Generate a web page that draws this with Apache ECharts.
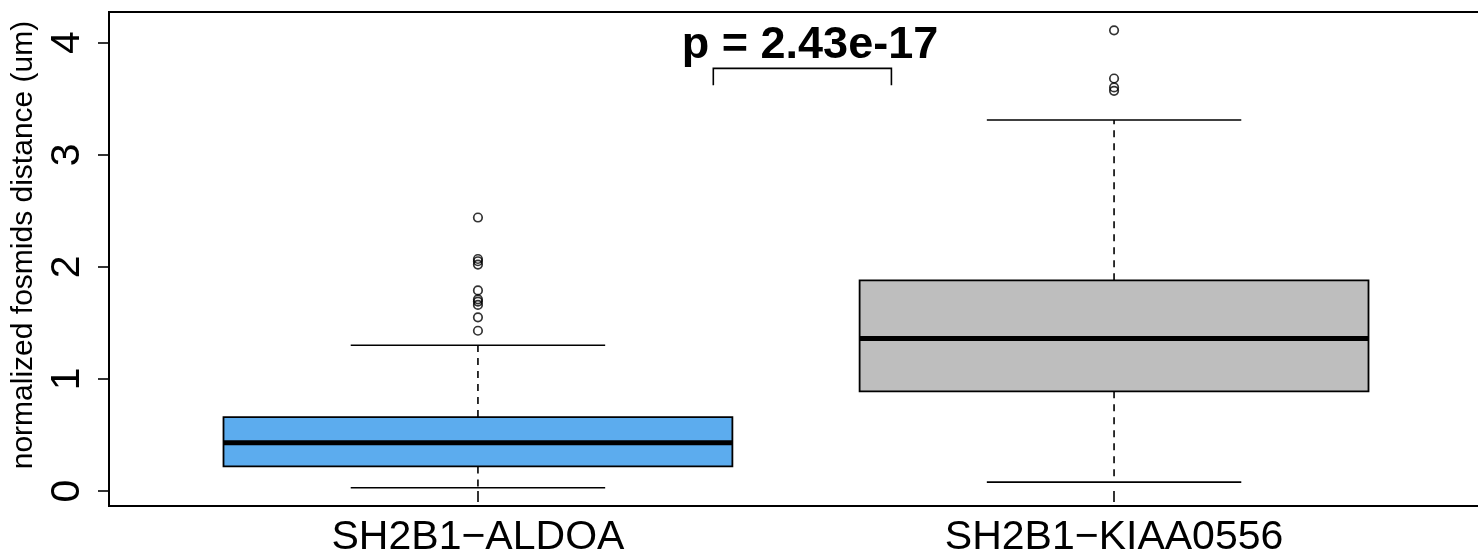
<!DOCTYPE html>
<html>
<head>
<meta charset="utf-8">
<title>normalized fosmids distance</title>
<script src="https://cdn.jsdelivr.net/npm/echarts@6/dist/echarts.min.js"></script>
<style>
  html, body { margin: 0; padding: 0; background: #fff; }
  #chart { width: 1478px; height: 555px; }
</style>
</head>
<body>
<div id="chart"></div>
<script>
// Pair labels (x categories, placed at 1 and 2 on the value axis)
const groups = ['SH2B1\u2212ALDOA', 'SH2B1\u2212KIAA0556'];
const groupPos = [1, 2];
const boxColors = ['#5CACEE', '#BEBEBE'];

// Five-number summaries per pair
const lowerWhisker = [0.03, 0.08];
const q1 = [0.22, 0.89];
const medians = [0.43, 1.36];
const q3 = [0.66, 1.88];
const upperWhisker = [1.30, 3.31];

// Points beyond the whiskers
const outliersALDOA = [2.44, 2.07, 2.05, 2.02, 1.79, 1.71, 1.69, 1.66, 1.55, 1.43];
const outliersKIAA0556 = [4.11, 3.68, 3.60, 3.57];

// Y ticks
const yTicks = [0, 1, 2, 3, 4];

// Significance annotation
const pValueText = 'p = 2.43e-17';
const bracketX = [1.37, 1.65];
const bracketY = [3.77, 3.62];   // bar height, leg bottom
const pTextPos = [1.522, 3.97];

// Axis extents: data range padded by 4% each side
const allVals = lowerWhisker.concat(upperWhisker, outliersALDOA, outliersKIAA0556);
const dMin = Math.min.apply(null, allVals);
const dMax = Math.max.apply(null, allVals);
const pad = (dMax - dMin) * 0.04;
const yMin = dMin - pad;
const yMax = dMax + pad;
const xMin = 0.5 - 0.08;
const xMax = 2.5 + 0.08;

const boxRows = groupPos.map((x, i) => [x, lowerWhisker[i], q1[i], medians[i], q3[i], upperWhisker[i], i]);
const outlierRows = []
  .concat(outliersALDOA.map(v => [1, v]))
  .concat(outliersKIAA0556.map(v => [2, v]));

function renderBox(params, api) {
  const x = api.value(0);
  const lo = api.coord([x, api.value(1)]);
  const b1 = api.coord([x, api.value(2)]);
  const md = api.coord([x, api.value(3)]);
  const b3 = api.coord([x, api.value(4)]);
  const hi = api.coord([x, api.value(5)]);
  const idx = api.value(6);
  const half = api.size([0.4, 0])[0];
  const capHalf = api.size([0.2, 0])[0];
  const cx = lo[0];
  const dash = { stroke: '#000', lineWidth: 1.6, lineDash: [7, 6] };
  const solid = { stroke: '#000', lineWidth: 1.6 };
  return {
    type: 'group',
    children: [
      { type: 'line', shape: { x1: cx, y1: b3[1], x2: cx, y2: hi[1] }, style: dash },
      { type: 'line', shape: { x1: cx, y1: b1[1], x2: cx, y2: lo[1] }, style: dash },
      { type: 'line', shape: { x1: cx - capHalf, y1: hi[1], x2: cx + capHalf, y2: hi[1] }, style: solid },
      { type: 'line', shape: { x1: cx - capHalf, y1: lo[1], x2: cx + capHalf, y2: lo[1] }, style: solid },
      { type: 'rect', shape: { x: cx - half, y: b3[1], width: half * 2, height: b1[1] - b3[1] },
        style: { fill: boxColors[idx], stroke: '#000', lineWidth: 1.8 } },
      { type: 'line', shape: { x1: cx - half, y1: md[1], x2: cx + half, y2: md[1] },
        style: { stroke: '#000', lineWidth: 5 } }
    ]
  };
}

function renderBracket(params, api) {
  const a = api.coord([bracketX[0], bracketY[0]]);
  const b = api.coord([bracketX[1], bracketY[0]]);
  const aLeg = api.coord([bracketX[0], bracketY[1]]);
  const bLeg = api.coord([bracketX[1], bracketY[1]]);
  const t = api.coord(pTextPos);
  return {
    type: 'group',
    children: [
      { type: 'polyline', shape: { points: [[aLeg[0], aLeg[1]], [a[0], a[1]], [b[0], b[1]], [bLeg[0], bLeg[1]]] },
        style: { stroke: '#000', lineWidth: 1.6, fill: null } },
      { type: 'text', x: t[0], y: t[1],
        style: { text: pValueText, fill: '#000', font: 'bold 45px "Liberation Sans", Arial, sans-serif',
                 align: 'center', verticalAlign: 'middle' } }
    ]
  };
}

const chart = echarts.init(document.getElementById('chart'), null, { renderer: 'canvas' });
chart.setOption({
  animation: false,
  backgroundColor: '#fff',
  grid: {
    left: 109, top: 12, width: 1374, height: 494,
    containLabel: false, outerBoundsMode: 'none',
    show: true, borderColor: '#000', borderWidth: 2, backgroundColor: 'transparent'
  },
  xAxis: {
    type: 'value', min: xMin, max: xMax,
    axisLine: { show: false },
    splitLine: { show: false },
    axisTick: { show: true, customValues: groupPos, length: 11, lineStyle: { color: '#000', width: 1.6 } },
    axisLabel: {
      customValues: groupPos,
      formatter: v => groups[Math.round(v) - 1],
      color: '#000', fontSize: 41, fontFamily: '"Liberation Sans", Arial, sans-serif', margin: 11
    }
  },
  yAxis: {
    type: 'value', min: yMin, max: yMax,
    name: 'normalized fosmids distance (um)',
    nameLocation: 'middle', nameRotate: 90, nameGap: 70,
    nameTextStyle: { color: '#000', fontSize: 30, fontFamily: '"Liberation Sans", Arial, sans-serif',
                     padding: [0, 0, 0, 28] },
    axisLine: { show: false },
    splitLine: { show: false },
    axisTick: { show: true, customValues: yTicks, length: 11, lineStyle: { color: '#000', width: 1.6 } },
    axisLabel: {
      customValues: yTicks, rotate: 90,
      color: '#000', fontSize: 41, fontFamily: '"Liberation Sans", Arial, sans-serif', margin: 21
    }
  },
  series: [
    {
      type: 'custom', name: 'box', renderItem: renderBox, data: boxRows,
      encode: { x: 0, y: [1, 2, 3, 4, 5] }, clip: false, z: 2
    },
    {
      type: 'scatter', name: 'outliers', data: outlierRows, symbol: 'circle', symbolSize: 8.5,
      itemStyle: { color: 'rgba(0,0,0,0)', borderColor: '#000', borderWidth: 1.7 }, z: 3
    },
    {
      type: 'custom', name: 'pvalue', renderItem: renderBracket, data: [[pTextPos[0], pTextPos[1]]],
      encode: { x: 0, y: 1 }, clip: false, z: 4
    }
  ]
});
</script>
</body>
</html>
